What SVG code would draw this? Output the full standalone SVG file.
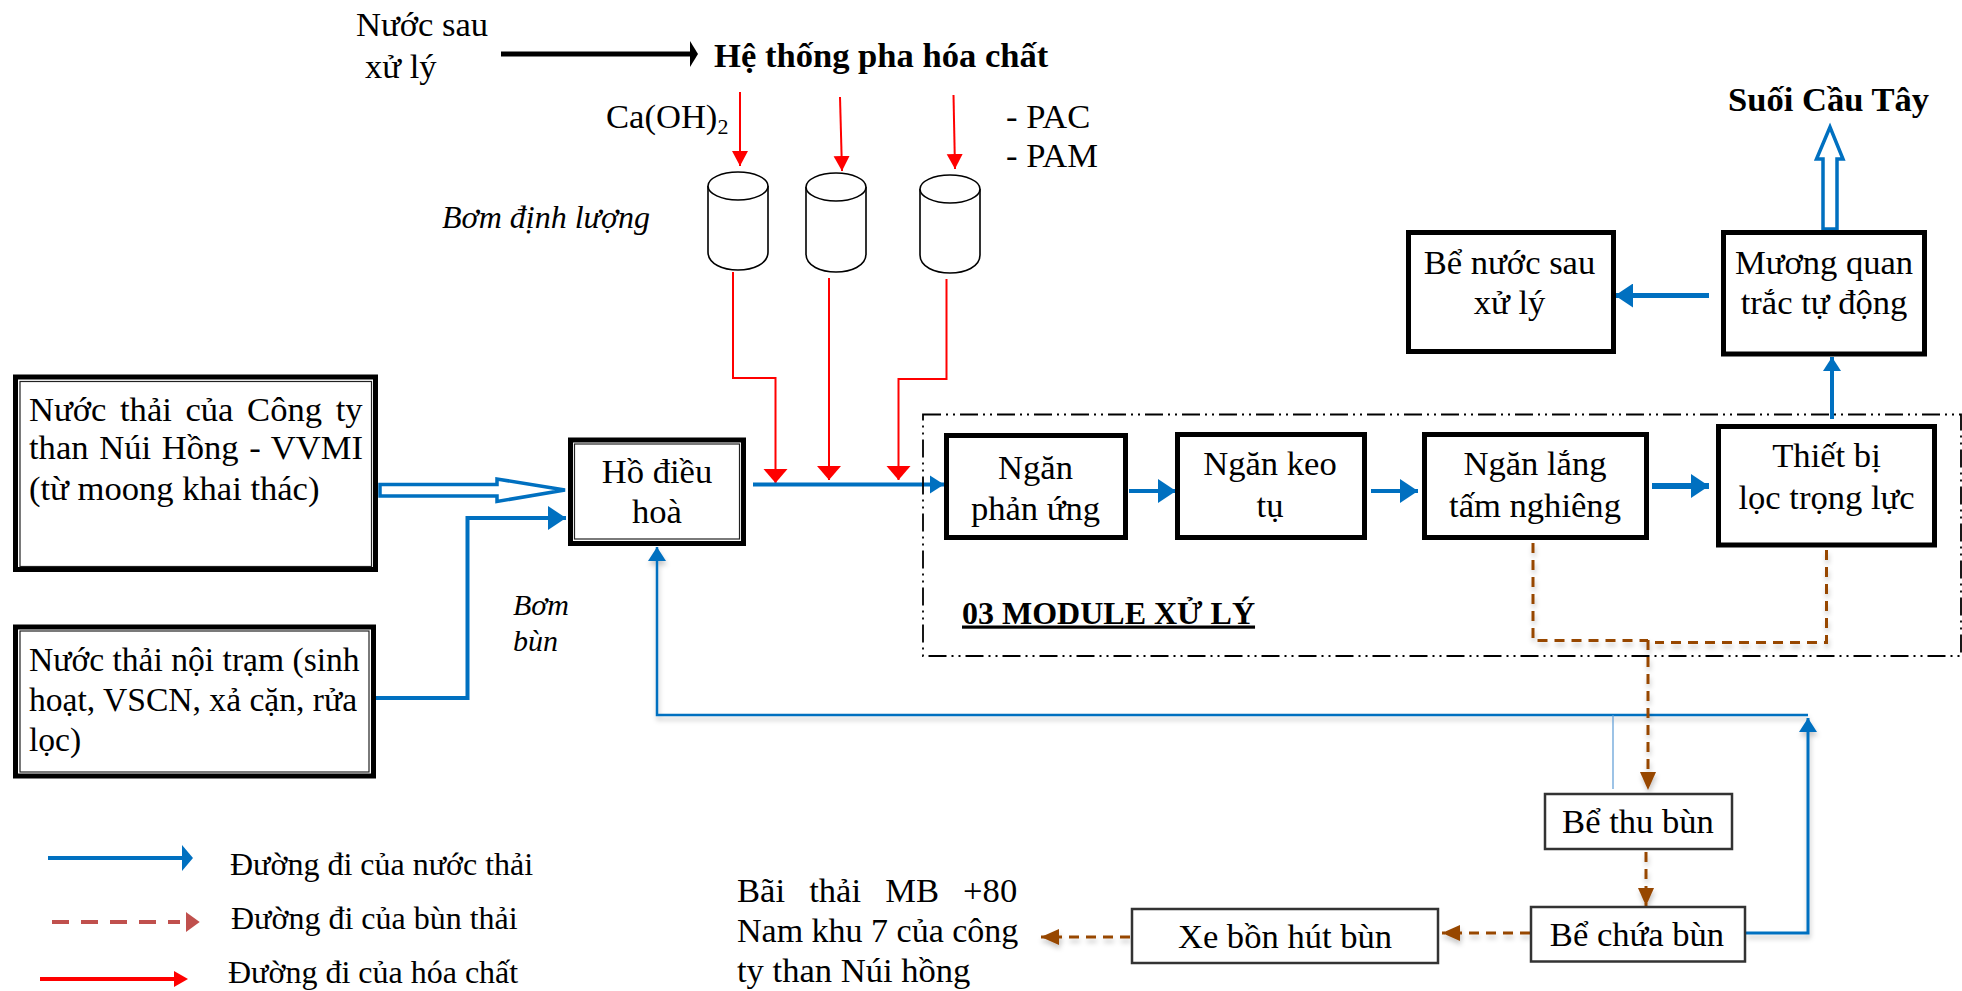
<svg xmlns="http://www.w3.org/2000/svg" width="1962" height="991" viewBox="0 0 1962 991">
<style>
text{font-family:"Liberation Serif","Times New Roman",serif;font-size:34.6px;fill:#000}
.m{text-anchor:middle}
.b{font-weight:bold}
.i{font-style:italic}
.lg{font-size:32px}
.box{fill:#fff;stroke:#000;stroke-width:5}
.thin{fill:none;stroke:#222;stroke-width:1.2}
.sm{fill:#fff;stroke:#333;stroke-width:2.5}
.cyl{fill:#fff;stroke:#000;stroke-width:1.6}
.c{fill:none;stroke-linejoin:miter}
.blue{stroke:#0070C0;stroke-width:4}
.red{stroke:#FF0000;stroke-width:2}
.brown{stroke:#974706;stroke-width:3;stroke-dasharray:10 7}
.hollow{fill:#fff;stroke:#0070C0;stroke-width:3.5}
</style>
<defs>
<filter id="sh" x="-5%" y="-5%" width="110%" height="110%"><feDropShadow dx="1" dy="4" stdDeviation="2.5" flood-color="#000" flood-opacity="0.22"/></filter>
<marker id="ab" markerUnits="userSpaceOnUse" markerWidth="16" markerHeight="20" refX="14" refY="10" orient="auto"><path d="M0 1L14 10L0 19Z" fill="#0070C0"/></marker>
<marker id="ab2" markerUnits="userSpaceOnUse" markerWidth="20" markerHeight="24" refX="18" refY="12" orient="auto"><path d="M0 0L18 12L0 24Z" fill="#0070C0"/></marker>
<marker id="ar" markerUnits="userSpaceOnUse" markerWidth="18" markerHeight="26" refX="14" refY="13" orient="auto"><path d="M0 1L14 13L0 25Z" fill="#FF0000"/></marker>
<marker id="ar2" markerUnits="userSpaceOnUse" markerWidth="18" markerHeight="18" refX="15" refY="8" orient="auto"><path d="M0 0L15 8L0 16Z" fill="#FF0000"/></marker>
<marker id="abr" markerUnits="userSpaceOnUse" markerWidth="20" markerHeight="18" refX="18" refY="8" orient="auto"><path d="M0 0L18 8L0 16Z" fill="#974706"/></marker>
</defs>

<g id="connectors">
<path class="c" d="M501 54H692" stroke="#000" stroke-width="5"/><path d="M690 41L698 54L690 67Z" fill="#000"/>
<path class="c red" marker-end="url(#ar2)" d="M740 92V166"/>
<path class="c red" marker-end="url(#ar2)" d="M840 97L842 171"/>
<path class="c red" marker-end="url(#ar2)" d="M953.5 95L955 169"/>
<path class="c red" marker-end="url(#ar)" d="M733 272V378H775.500V483"/>
<path class="c red" marker-end="url(#ar)" d="M829 278V480"/>
<path class="c red" marker-end="url(#ar)" d="M946.500 279V379H898.500V480"/>
<path class="c blue" marker-end="url(#ab)" d="M753 484.500H944"/>
<path class="hollow" d="M380 484.500H497V479L565 490L497 501.500V496H380Z"/>
<path class="c blue" marker-end="url(#ab2)" d="M376 698H467.500V518H566"/>
<g filter="url(#sh)">
<path class="c" stroke="#0070C0" stroke-width="2.500" marker-end="url(#ab)" d="M1808 715H657V547"/>
<path class="c" stroke="#0070C0" stroke-width="3" marker-end="url(#ab)" d="M1746 933H1808V718"/>
</g>
<path class="c" stroke="#5B9BD5" stroke-width="1.200" d="M1613 715V789"/>
<path class="hollow" d="M1823 229V159H1816.500L1830 127L1843 159H1837V229Z"/>
<path class="c" stroke="#0070C0" stroke-width="5" marker-end="url(#ab2)" d="M1709 295.500H1615"/>
<path class="c blue" marker-end="url(#ab)" d="M1832 419V357"/>
<path class="c blue" marker-end="url(#ab2)" d="M1129 491H1176"/>
<path class="c blue" marker-end="url(#ab2)" d="M1371 491H1418"/>
<path class="c" stroke="#0070C0" stroke-width="6" marker-end="url(#ab2)" d="M1652 486H1709"/>
<g filter="url(#sh)">
<path class="c brown" d="M1533 543V640.500H1648"/>
<path class="c brown" d="M1826.500 550V642.500H1655"/>
<path class="c brown" marker-end="url(#abr)" d="M1648 640V790"/>
<path class="c brown" marker-end="url(#abr)" d="M1646 852V906"/>
<path class="c brown" marker-end="url(#abr)" d="M1530 933H1442"/>
<path class="c brown" marker-end="url(#abr)" d="M1130 937H1041"/>
</g>
<rect x="923" y="414.500" width="1038" height="241.500" fill="none" stroke="#000" stroke-width="1.800" stroke-dasharray="18 5 2 5 2 5"/>
</g>

<g id="n-nuocsau">
<text x="356" y="36">Nước sau</text><text x="365" y="78">xử lý</text>
</g>
<g id="n-hethong"><text class="b" x="714" y="67">Hệ thống pha hóa chất</text></g>
<g id="n-caoh"><text x="606" y="128">Ca(OH)<tspan font-size="22" dy="6">2</tspan></text></g>
<g id="n-pac"><text x="1006" y="128">- PAC</text><text x="1006" y="167">- PAM</text></g>
<g id="n-bom"><text class="i" x="442" y="228" style="font-size:32px">Bơm định lượng</text></g>
<g id="n-bombun"><text class="i" x="513" y="615" style="font-size:30px">Bơm</text><text class="i" x="513" y="651" style="font-size:30px">bùn</text></g>

<g id="pump1"><path class="cyl" d="M708 186V252C708 276 768 276 768 252V186"/><ellipse class="cyl" cx="738" cy="186" rx="30" ry="14"/></g>
<g id="pump2"><path class="cyl" d="M806 187V254C806 278 866 278 866 254V187"/><ellipse class="cyl" cx="836" cy="187" rx="30" ry="14"/></g>
<g id="pump3"><path class="cyl" d="M920 189V255C920 279 980 279 980 255V189"/><ellipse class="cyl" cx="950" cy="189" rx="30" ry="14"/></g>

<g id="n-cty">
<rect class="box" x="15.500" y="377" width="360" height="192.500"/><rect class="thin" x="20" y="381.500" width="351.500" height="185"/>
<text x="29" y="421" word-spacing="5">Nước thải của Công ty</text>
<text x="29" y="459" word-spacing="2">than Núi Hồng - VVMI</text>
<text x="29" y="500">(từ moong khai thác)</text>
</g>
<g id="n-noitram">
<rect class="box" x="15.500" y="627" width="358" height="149"/><rect class="thin" x="20" y="631" width="349" height="141"/>
<g style="font-size:33.600px">
<text style="font-size:33.600px" x="29" y="671">Nước thải nội trạm (sinh</text>
<text style="font-size:33.600px" x="29" y="711">hoạt, VSCN, xả cặn, rửa</text>
<text style="font-size:33.600px" x="29" y="751">lọc)</text>
</g>
</g>
<g id="n-ho">
<rect class="box" x="570.500" y="440" width="173" height="103.500"/><rect class="thin" x="574.500" y="444" width="165" height="95"/>
<text class="m" x="657" y="483">Hồ điều</text><text class="m" x="657" y="523">hoà</text>
</g>
<g id="n-phanung"><rect class="box" x="946.500" y="435.500" width="179" height="102"/><text class="m" x="1035.500" y="479">Ngăn</text><text class="m" x="1035.500" y="520">phản ứng</text></g>
<g id="n-keotu"><rect class="box" x="1177.500" y="434.500" width="187" height="103"/><text class="m" x="1270" y="475">Ngăn keo</text><text class="m" x="1270" y="517">tụ</text></g>
<g id="n-lang"><rect class="box" x="1424.500" y="434.500" width="222" height="103"/><text class="m" x="1535" y="475">Ngăn lắng</text><text class="m" x="1535" y="517">tấm nghiêng</text></g>
<g id="n-loc"><rect class="box" x="1718.500" y="426.500" width="216" height="118.500"/><text class="m" x="1826.500" y="467">Thiết bị</text><text class="m" x="1826.500" y="509">lọc trọng lực</text></g>
<g id="n-benuoc"><rect class="box" x="1408.500" y="232.500" width="205" height="119"/><text class="m" x="1509.500" y="273.500">Bể nước sau</text><text class="m" x="1509.500" y="314">xử lý</text></g>
<g id="n-muong"><rect class="box" x="1723.500" y="232.500" width="201" height="121.500"/><text class="m" x="1824" y="273.500">Mương quan</text><text class="m" x="1824" y="314">trắc tự động</text></g>
<g id="n-suoi"><text class="b" x="1728" y="110.500">Suối Cầu Tây</text></g>
<g id="n-module"><text class="b" x="962" y="623.500" style="font-size:32px;text-decoration:underline">03 MODULE XỬ LÝ</text></g>
<g id="n-thubun"><rect class="sm" x="1545" y="794" width="187" height="55"/><text class="m" x="1638" y="833">Bể thu bùn</text></g>
<g id="n-chuabun"><rect class="sm" x="1531" y="907" width="214" height="54.500"/><text class="m" x="1637" y="946">Bể chứa bùn</text></g>
<g id="n-xebon"><rect class="sm" x="1132" y="909" width="306" height="54"/><text class="m" x="1285" y="948">Xe bồn hút bùn</text></g>
<g id="n-baithai">
<text x="737" y="902" word-spacing="15.500">Bãi thải MB +80</text>
<text x="737" y="942" style="font-size:34px">Nam khu 7 của công</text>
<text x="737" y="982">ty than Núi hồng</text>
</g>
<g id="legend">
<path class="c" stroke="#0070C0" stroke-width="4" d="M48 858H184"/><path d="M182 845L193 858L182 871Z" fill="#0070C0"/>
<path class="c" stroke="#C0504D" stroke-width="4" stroke-dasharray="17 12" d="M52 922H180"/><path d="M187 914L198 922L187 930Z" fill="#C0504D" stroke="#C0504D" stroke-width="2"/>
<path class="c" stroke="#FF0000" stroke-width="4" d="M40 979H178"/><path d="M174 971L188 979L174 987Z" fill="#FF0000"/>
<text class="lg" x="230" y="875">Đường đi của nước thải</text>
<text class="lg" x="231" y="929">Đường đi của bùn thải</text>
<text class="lg" x="228" y="983">Đường đi của hóa chất</text>
</g>
</svg>
